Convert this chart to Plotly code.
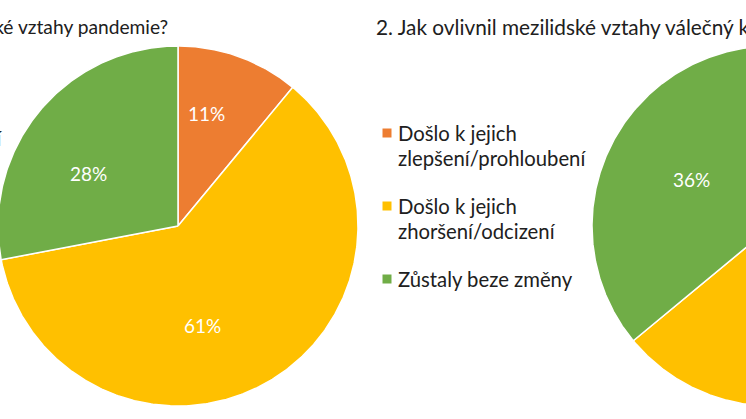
import numpy as np
import plotly.graph_objects as go

# ---------------- data ----------------
categories = ["Došlo k jejich zlepšení/prohloubení",
              "Došlo k jejich zhoršení/odcizení",
              "Zůstaly beze změny"]
legend_lines = [["Došlo k jejich", "zlepšení/prohloubení"],
                ["Došlo k jejich", "zhoršení/odcizení"],
                ["Zůstaly beze změny"]]
pandemic_values = [11, 61, 28]
war_values = [10, 54, 36]
titles = ["1. Jak ovlivnila mezilidské vztahy pandemie?",
          "2. Jak ovlivnil mezilidské vztahy válečný konflikt?"]

# ---------------- style / layout ----------------
colors = ["#ED7D31", "#FFC000", "#70AD47"]
W, H = 746, 419
FONT = "Lato, Carlito, 'Open Sans', sans-serif"
TXT = "#202020"
FS = 20.3
FS_TITLES = [19.2, 20.8]
R = 180
pies = [
    dict(values=pandemic_values, cx=178, cy=226,
         label_xy=[(206, 113), (202, 325), (88, 173)]),
    dict(values=war_values, cx=772, cy=226,
         label_xy=[(810, 100), (880, 320), (691, 179)]),
]

fig = go.Figure()


def wedge(cx, cy, r, a0, a1):
    th = np.linspace(a0, a1, max(4, int(abs(a1 - a0) * 2)))
    xs = np.concatenate([[cx], cx + r * np.sin(np.radians(th)), [cx]])
    ys = np.concatenate([[cy], cy - r * np.cos(np.radians(th)), [cy]])
    return xs, ys


for p in pies:
    vals = np.array(p["values"], dtype=float)
    cum = np.concatenate([[0], np.cumsum(vals)]) / vals.sum() * 360
    for i, v in enumerate(vals):
        xs, ys = wedge(p["cx"], p["cy"], R, cum[i], cum[i + 1])
        fig.add_trace(go.Scatter(
            x=xs, y=ys, mode="lines", fill="toself",
            fillcolor=colors[i], line=dict(color="white", width=1.5),
            name=categories[i], showlegend=False, hoverinfo="name"))
    for i, v in enumerate(vals):
        lx, ly = p["label_xy"][i]
        fig.add_annotation(x=lx, y=ly, text=f"{int(v)}%", showarrow=False,
                           font=dict(family=FONT, size=19, color="white"),
                           xanchor="center", yanchor="middle")

# titles
fig.add_annotation(x=170, y=26, text=titles[0], showarrow=False,
                   xanchor="right", yanchor="middle",
                   font=dict(family=FONT, size=FS_TITLES[0], color=TXT))
fig.add_annotation(x=374, y=26, text=titles[1], showarrow=False,
                   xanchor="left", yanchor="middle",
                   font=dict(family=FONT, size=FS_TITLES[1], color=TXT))

# right legend
item_y = [133, 206, 279]
LINE_GAP = 25
fig.add_trace(go.Scatter(
    x=[387] * 3, y=item_y, mode="markers",
    marker=dict(symbol="square", size=9, color=colors, line=dict(width=0)),
    showlegend=False, hoverinfo="skip"))
for i, lines in enumerate(legend_lines):
    for j, line in enumerate(lines):
        fig.add_annotation(x=396, y=item_y[i] + j * LINE_GAP, text=line,
                           showarrow=False, xanchor="left", yanchor="middle",
                           font=dict(family=FONT, size=FS, color=TXT))

# fragment of the left chart's legend (cut off by the crop)
fig.add_annotation(x=4, y=138, text=legend_lines[0][1], showarrow=False,
                   xanchor="right", yanchor="middle",
                   font=dict(family=FONT, size=FS, color=TXT))

fig.update_layout(
    width=W, height=H, autosize=False,
    margin=dict(l=0, r=0, t=0, b=0),
    paper_bgcolor="white", plot_bgcolor="white",
    xaxis=dict(range=[0, W], visible=False, fixedrange=True),
    yaxis=dict(range=[H, 0], visible=False, fixedrange=True),
    showlegend=False,
)

fig.write_html(
    "out.html",
    config={"displayModeBar": False},
    post_script="document.body.style.margin='0';"
                "document.body.style.overflow='hidden';",
)
